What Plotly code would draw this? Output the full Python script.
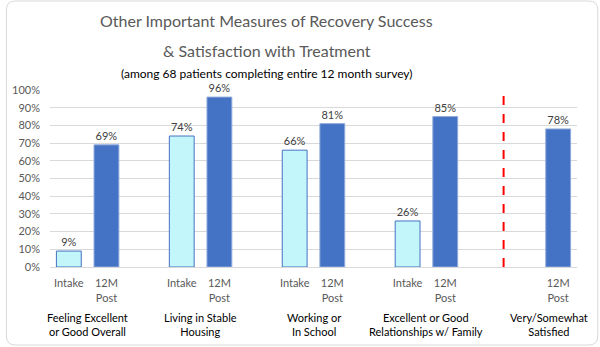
import plotly.graph_objects as go

# Survey results (% of patients)
groups = ["Feeling Excellent<br>or Good Overall", "Living in Stable<br>Housing",
          "Working or<br>In School", "Excellent or Good<br>Relationships w/ Family",
          "Very/Somewhat<br>Satisfied"]
intake_vals = [9, 74, 66, 26]
post_vals = [69, 96, 81, 85, 78]
y_ticks = [0, 10, 20, 30, 40, 50, 60, 70, 80, 90, 100]

W, H = 600, 347
ML, MR, MT, MB = 45, 23, 90, 80
PW, PH = W - ML - MR, H - MT - MB

def px_x(px):
    return (px - ML) / PW

def px_y(py):
    return (H - MB - py) / PH

# slot positions along the category axis (one slot per bar, one gap slot per group)
intake_x = [3 * i for i in range(len(intake_vals))]
post_x = [3 * i + 1 for i in range(len(post_vals) - 1)] + [13]
group_x = [0.5, 3.5, 6.5, 9.5, 12.75]
divider_x = 11.55

FONT = "Lato"
fig = go.Figure()
fig.add_trace(go.Bar(
    x=intake_x, y=intake_vals, width=0.66,
    marker=dict(color="#C2F6FB", line=dict(color="#4472C4", width=1)),
    text=[f"{v}%" for v in intake_vals], textposition="outside",
    textfont=dict(size=11, color="#404040", family=FONT), cliponaxis=False,
    showlegend=False))
fig.add_trace(go.Bar(
    x=post_x, y=post_vals, width=0.66,
    marker=dict(color="#4472C4", line=dict(color="#8FAADC", width=1)),
    text=[f"{v}%" for v in post_vals], textposition="outside",
    textfont=dict(size=11, color="#404040", family=FONT), cliponaxis=False,
    showlegend=False))

tickvals = sorted(intake_x + post_x)
ticktext = ["Intake" if v in intake_x else "12M<br>Post" for v in tickvals]

fig.update_layout(
    width=W, height=H, margin=dict(l=ML, r=MR, t=MT, b=MB),
    paper_bgcolor="white", plot_bgcolor="white",
    font=dict(family=FONT, color="#595959", size=11),
    barmode="overlay",
    xaxis=dict(range=[-0.5, 13.5], tickvals=tickvals, ticktext=ticktext,
               showgrid=False, zeroline=False, showline=True,
               linecolor="#D9D9D9", linewidth=1, ticks="", ticklabelstandoff=6,
               tickfont=dict(size=11, color="#595959")),
    yaxis=dict(range=[0, 100], tickvals=y_ticks,
               ticktext=[f"{v}%" for v in y_ticks],
               showgrid=True, gridcolor="#D9D9D9", gridwidth=1,
               zeroline=False, ticks="", ticklabelstandoff=9,
               tickfont=dict(size=11, color="#595959")),
)

# title block, centred at x = 264 px
TITLE_CX = 264
annotations = [
    dict(text="Other Important Measures of Recovery Success", y=21,
         size=16, color="#595959", weight=400),
    dict(text="& Satisfaction with Treatment", y=50,
         size=16, color="#595959", weight=400),
    dict(text="(among 68 patients completing entire 12 month survey)", y=74,
         size=12, color="#000000", weight=400),
]
for a in annotations:
    fig.add_annotation(text=a["text"], xref="paper", yref="paper",
                       x=px_x(TITLE_CX), y=px_y(a["y"]),
                       xanchor="center", yanchor="middle", showarrow=False,
                       font=dict(size=a["size"], color=a["color"], family=FONT,
                                 weight=a["weight"]))

for gx, label in zip(group_x, groups):
    fig.add_annotation(text=label, x=gx, xref="x", yref="paper", y=px_y(324.5),
                       xanchor="center", yanchor="middle", showarrow=False,
                       font=dict(size=11, color="#000000", family=FONT))

# dashed divider between the measures and the satisfaction bar
fig.add_shape(type="line", xref="x", yref="paper", x0=divider_x, x1=divider_x,
              y0=0, y1=1, line=dict(color="#FF0000", width=2, dash="dash"))

# rounded chart border
x0, x1, y0, y1, r = 1, 598, 1, 345, 9
pts = [
    f"M {px_x(x0 + r)},{px_y(y0)}",
    f"L {px_x(x1 - r)},{px_y(y0)}",
    f"Q {px_x(x1)},{px_y(y0)} {px_x(x1)},{px_y(y0 + r)}",
    f"L {px_x(x1)},{px_y(y1 - r)}",
    f"Q {px_x(x1)},{px_y(y1)} {px_x(x1 - r)},{px_y(y1)}",
    f"L {px_x(x0 + r)},{px_y(y1)}",
    f"Q {px_x(x0)},{px_y(y1)} {px_x(x0)},{px_y(y1 - r)}",
    f"L {px_x(x0)},{px_y(y0 + r)}",
    f"Q {px_x(x0)},{px_y(y0)} {px_x(x0 + r)},{px_y(y0)}",
    "Z",
]
fig.add_shape(type="path", xref="paper", yref="paper", path=" ".join(pts),
              line=dict(color="#D9D9D9", width=1), layer="below")

fig.write_html("out.html")
